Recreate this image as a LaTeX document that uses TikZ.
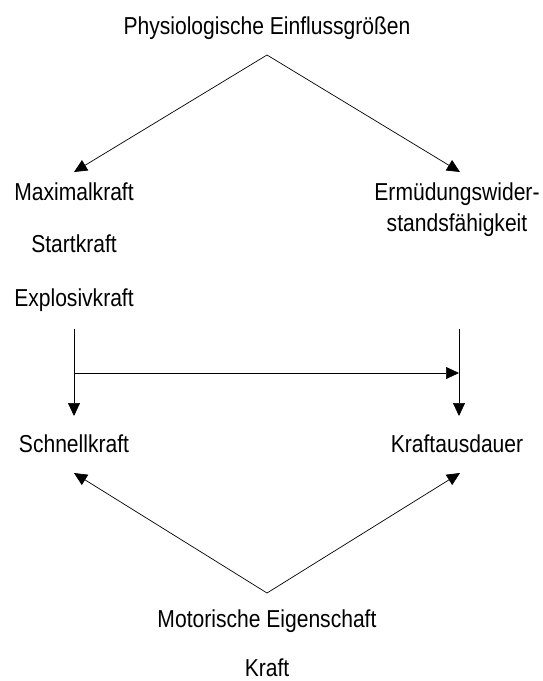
\documentclass[tikz,border=0pt]{standalone}
\usepackage{fontspec}
\setmainfont{Liberation Sans}[FakeStretch=0.86]
\usetikzlibrary{arrows.meta}
\begin{document}
\begin{tikzpicture}[>={Triangle[length=13pt,width=12pt]},line join=bevel,x=1pt,y=1pt,
  lbl/.style={anchor=base,inner sep=0pt,font=\fontsize{24.5}{31}\selectfont},
  conn/.style={->,line width=0.7pt}]
\useasboundingbox (0,0) rectangle (543,-681);
%%
\node (phys) at (267,-34) [lbl] {Physiologische Einflussgrößen};
  \node (maxk) at (74,-200) [lbl] {Maximalkraft};
  \node (startk) at (74,-252) [lbl] {Startkraft};
  \node (explk) at (74,-306) [lbl] {Explosivkraft};
  \node (ermued) at (457,-231) [lbl,align=center] {Ermüdungswider-\\standsfähigkeit};
  \node (schnellk) at (74,-452) [lbl] {Schnellkraft};
  \node (kraftaus) at (457,-452) [lbl] {Kraftausdauer};
  \node (motor) at (267,-627) [lbl] {Motorische Eigenschaft};
  \node (kraft) at (267,-676) [lbl] {Kraft};
%
\coordinate (phys_out) at (267,-55);
  \coordinate (maxk_in) at (74,-172);
  \coordinate (ermued_in) at (460,-172);
  \coordinate (explk_out) at (74,-329);
  \coordinate (ermued_out) at (459,-329);
  \coordinate (split) at (74,-373);
  \coordinate (join) at (459,-373);
  \coordinate (schnellk_in) at (74,-416);
  \coordinate (kraftaus_in) at (459,-416);
  \coordinate (schnellk_low) at (74,-473);
  \coordinate (kraftaus_low) at (460,-473);
  \coordinate (motor_out) at (267,-593);
%
\draw [conn] (phys_out) -- (maxk_in);
  \draw [conn] (phys_out) -- (ermued_in);
  \draw [conn] (explk_out) -- (schnellk_in);
  \draw [conn] (ermued_out) -- (kraftaus_in);
  \draw [conn] (split) -- (join);
  \draw [conn] (motor_out) -- (schnellk_low);
  \draw [conn] (motor_out) -- (kraftaus_low);
%
\end{tikzpicture}
\end{document}
